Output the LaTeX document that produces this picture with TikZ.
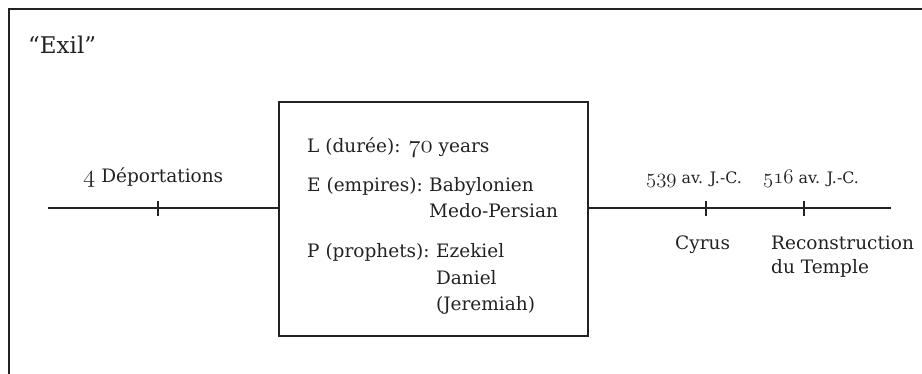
\documentclass[tikz,border=0pt]{standalone}
\usepackage{fontspec}
\setmainfont{DejaVu Serif}
\makeatletter
\newcommand{\osn}[1]{{\fontsize{\strip@pt\dimexpr1.4\dimexpr\f@size pt\relax\relax}{0}\usefont{OML}{lmm}{b}{it}#1}}
\makeatother
\definecolor{ink}{HTML}{222222}
\begin{document}
\begin{tikzpicture}[x=1pt,y=-1pt,
  frame/.style={draw=ink,line width=2pt},
  boxst/.style={draw=ink,line width=1.6pt,minimum width=309pt,minimum height=234pt,inner sep=0pt},
  tl/.style={draw=ink,line width=1.2pt},
  lbl/.style={anchor=base west,inner sep=0pt,text=ink,font=\fontsize{18.5}{22}\selectfont},
  dt/.style={lbl,font=\fontsize{15.8}{19}\selectfont},
  ttl/.style={lbl,font=\fontsize{23}{27}\selectfont}]
\useasboundingbox (0,0) rectangle (922,373);
% frame
\coordinate (fb) at (9,374);
\coordinate (fc) at (9,9);
\coordinate (fr) at (923,9);
\draw[frame] (fb) -- (fc) -- (fr);
\node[ttl] (title) at (28,53) {“Exil”};
% box
\node[boxst] (box) at (433.5,219) {};
% timeline
\coordinate (a) at (48,208);
\coordinate (b) at (891,208);
\draw[tl] (a) -- (a -| box.west);
\draw[tl] (box.east |- b) -- (b);
\coordinate (t1) at (158,208);
\coordinate (t2) at (706,208);
\coordinate (t3) at (804,208);
\foreach \t in {t1,t2,t3}{
  \draw[tl] ([yshift=7.5pt]\t) -- ([yshift=-7.5pt]\t);
}
% left labels
\node[lbl] (dep) at (83,182) {\osn{4} Déportations};
% right labels
\node[dt] (d1) at (646,183) {\osn{539} av. J.-C.};
\node[dt] (d2) at (763,183) {\osn{516} av. J.-C.};
\node[lbl] (cy) at (675,249) {Cyrus};
\node[lbl] (rc1) at (771,249) {Reconstruction};
\node[lbl] (rc2) at (771,273) {du Temple};
% box content
\node[lbl] (l1) at (307,152) {L (durée): \osn{70} years};
\node[lbl] (e1) at (307,191) {E (empires):};
\node[lbl] (e2) at ([xshift=6pt]e1.base east) {Babylonien};
\node[lbl] (e3) at (e2.base west |- 0,217) {Medo-Persian};
\node[lbl] (p1) at (307,257) {P (prophets):};
\node[lbl] (p2) at ([xshift=6pt]p1.base east) {Ezekiel};
\node[lbl] (p3) at (p2.base west |- 0,284) {Daniel};
\node[lbl] (p4) at (p2.base west |- 0,310) {(Jeremiah)};
\end{tikzpicture}
\end{document}
